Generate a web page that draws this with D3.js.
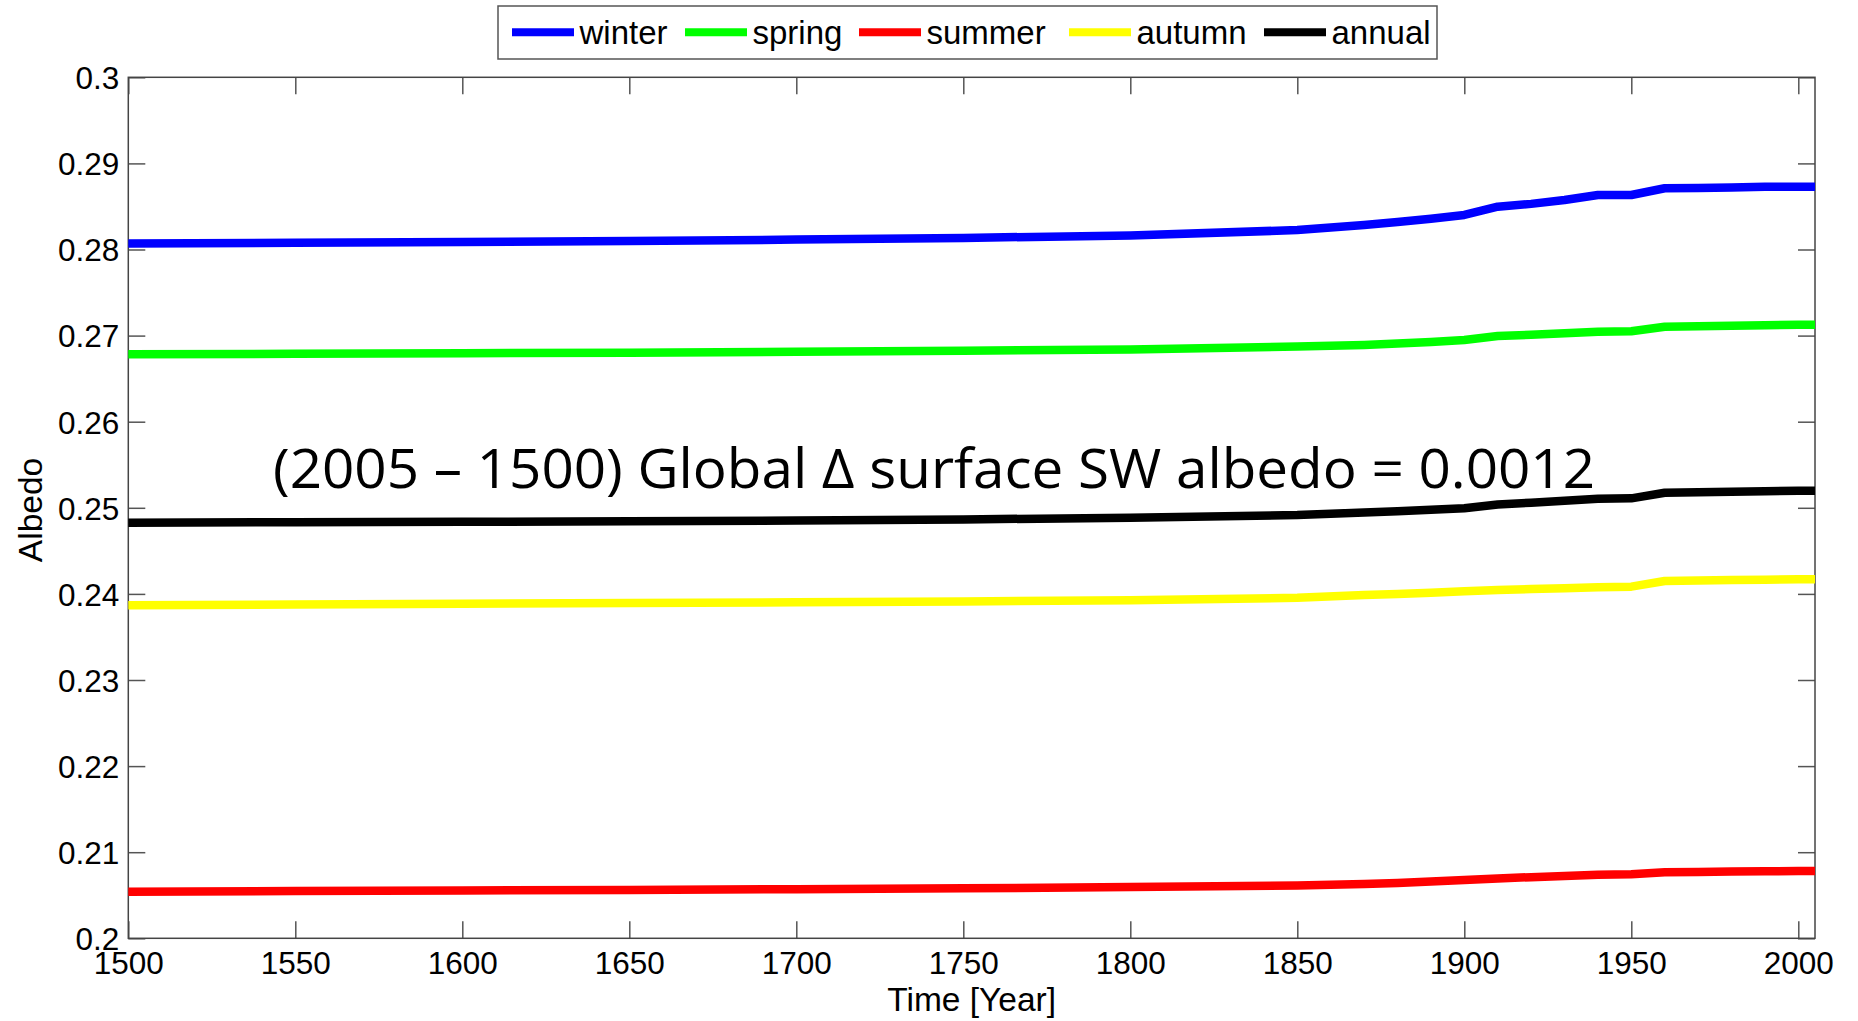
<!DOCTYPE html>
<html>
<head>
<meta charset="utf-8">
<script src="https://cdn.jsdelivr.net/npm/d3@7/dist/d3.min.js"></script>
<style>
	body { margin: 0; background: #fff; }
	svg { display: block; }
	.tick text { font-family: "Liberation Sans", Arial, sans-serif; font-size: 31.5px; fill: #000; }
	.axis path { display: none; }
	.axis line { stroke: #555; stroke-width: 1.5; }
</style>
</head>
<body>
<div id="container"></div>
<script>
// years sampled from the figure, then one array per season
var years = [1500, 1550, 1600, 1650, 1700, 1750, 1800, 1850, 1870, 1880, 1890, 1900,
	1910, 1920, 1930, 1940, 1950, 1960, 1970, 1980, 1990, 2000, 2005];

var winter = [0.28070, 0.28079, 0.28088, 0.28098, 0.28115, 0.28135, 0.28162, 0.28226, 0.28285, 0.28320, 0.28358, 0.28401,
	0.28497, 0.28530, 0.28575, 0.28633, 0.28633, 0.28711, 0.28715, 0.28720, 0.28728, 0.28730, 0.28730];

var spring = [0.26783, 0.26789, 0.26795, 0.26801, 0.26812, 0.26825, 0.26840, 0.26872, 0.26890, 0.26907, 0.26927, 0.26950,
	0.26995, 0.27010, 0.27027, 0.27045, 0.27050, 0.27103, 0.27108, 0.27113, 0.27120, 0.27125, 0.27127];

var summer = [0.20541, 0.20548, 0.20555, 0.20562, 0.20570, 0.20581, 0.20595, 0.20612, 0.20630, 0.20643, 0.20659, 0.20677,
	0.20695, 0.20710, 0.20724, 0.20738, 0.20745, 0.20768, 0.20771, 0.20775, 0.20779, 0.20781, 0.20782];

var autumn = [0.23868, 0.23877, 0.23885, 0.23894, 0.23903, 0.23913, 0.23925, 0.23955, 0.23987, 0.24000, 0.24014, 0.24030,
	0.24045, 0.24056, 0.24067, 0.24078, 0.24084, 0.24150, 0.24155, 0.24160, 0.24165, 0.24169, 0.24170];

var annual = [0.24827, 0.24832, 0.24838, 0.24843, 0.24852, 0.24865, 0.24885, 0.24915, 0.24945, 0.24960, 0.24977, 0.24995,
	0.25038, 0.25060, 0.25083, 0.25105, 0.25110, 0.25175, 0.25180, 0.25186, 0.25193, 0.25198, 0.25199];

var seriesNames = ["winter", "spring", "summer", "autumn", "annual"];
var seriesColors = ["#0000ff", "#00ff00", "#ff0000", "#ffff00", "#000000"];

var xTicks = [1500, 1550, 1600, 1650, 1700, 1750, 1800, 1850, 1900, 1950, 2000];
var yTicks = [0.2, 0.21, 0.22, 0.23, 0.24, 0.25, 0.26, 0.27, 0.28, 0.29, 0.3];

var xDomain = [1500, 2005];
var yDomain = [0.2, 0.3];

var note = "(2005 \u2013 1500) Global \u0394 surface SW albedo = 0.0012";

var W = 1858, H = 1021;
var plot = {left: 128.3, top: 77.3, right: 1815, bottom: 938.3};

var x = d3.scaleLinear().domain(xDomain).range([plot.left, plot.right]);
var y = d3.scaleLinear().domain(yDomain).range([plot.bottom, plot.top]);

var svg = d3.select("#container").append("svg")
	.attr("width", W)
	.attr("height", H);

var tickLen = 17;

// bottom + top
svg.append("g")
	.attr("class", "axis x")
	.attr("transform", "translate(0," + plot.bottom + ")")
	.call(d3.axisBottom(x).tickValues(xTicks).tickFormat(d => d).tickSizeInner(-tickLen).tickSizeOuter(0).tickPadding(13));

svg.append("g")
	.attr("class", "axis x2")
	.attr("transform", "translate(0," + plot.top + ")")
	.call(d3.axisTop(x).tickValues(xTicks).tickFormat("").tickSizeInner(-tickLen).tickSizeOuter(0));

// left + right
svg.append("g")
	.attr("class", "axis y")
	.attr("transform", "translate(" + plot.left + ",0)")
	.call(d3.axisLeft(y).tickValues(yTicks).tickFormat(d => d).tickSizeInner(-tickLen).tickSizeOuter(0).tickPadding(9));

svg.append("g")
	.attr("class", "axis y2")
	.attr("transform", "translate(" + plot.right + ",0)")
	.call(d3.axisRight(y).tickValues(yTicks).tickFormat("").tickSizeInner(-tickLen).tickSizeOuter(0));

svg.selectAll(".axis.x .tick text").attr("dy", "0.71em");
svg.selectAll(".axis.y .tick text").attr("dy", "0.36em");

// box
svg.append("rect")
	.attr("x", plot.left)
	.attr("y", plot.top)
	.attr("width", plot.right - plot.left)
	.attr("height", plot.bottom - plot.top)
	.attr("fill", "none")
	.attr("stroke", "#444")
	.attr("stroke-width", 1.5);

var line = d3.line()
	.x((d, i) => x(years[i]))
	.y(d => y(d));

var allSeries = [winter, spring, summer, autumn, annual];

svg.append("g")
	.attr("class", "lines")
	.selectAll("path")
	.data(allSeries)
	.enter().append("path")
	.attr("d", line)
	.attr("fill", "none")
	.attr("stroke", (d, i) => seriesColors[i])
	.attr("stroke-width", 8.5)
	.attr("stroke-linejoin", "round");

// axis labels
svg.append("text")
	.attr("x", (plot.left + plot.right) / 2)
	.attr("y", 1011)
	.attr("text-anchor", "middle")
	.style("font-family", "Liberation Sans, Arial, sans-serif")
	.style("font-size", "33.5px")
	.text("Time [Year]");

svg.append("text")
	.attr("transform", "translate(42,510) rotate(-90)")
	.attr("text-anchor", "middle")
	.style("font-family", "Liberation Sans, Arial, sans-serif")
	.style("font-size", "33.5px")
	.text("Albedo");

// annotation
svg.append("text")
	.attr("x", 273)
	.attr("y", 488)
	.attr("textLength", 1322)
	.attr("lengthAdjust", "spacingAndGlyphs")
	.style("font-family", "Open Sans, sans-serif")
	.style("font-size", "55px")
	.text(note);

// legend
var legend = svg.append("g").attr("class", "legend");

legend.append("rect")
	.attr("x", 498)
	.attr("y", 6)
	.attr("width", 939)
	.attr("height", 53)
	.attr("fill", "#fff")
	.attr("stroke", "#555")
	.attr("stroke-width", 1.5);

var legendX = [512, 685, 859, 1069, 1264];

var item = legend.selectAll("g.item")
	.data(seriesNames)
	.enter().append("g")
	.attr("class", "item")
	.attr("transform", (d, i) => "translate(" + legendX[i] + ",0)");

item.append("line")
	.attr("x1", 0)
	.attr("x2", 62)
	.attr("y1", 32.3)
	.attr("y2", 32.3)
	.attr("stroke", (d, i) => seriesColors[i])
	.attr("stroke-width", 8);

item.append("text")
	.attr("x", 67.5)
	.attr("y", 44.3)
	.style("font-family", "Liberation Sans, Arial, sans-serif")
	.style("font-size", "33px")
	.text(d => d);
</script>
</body>
</html>
